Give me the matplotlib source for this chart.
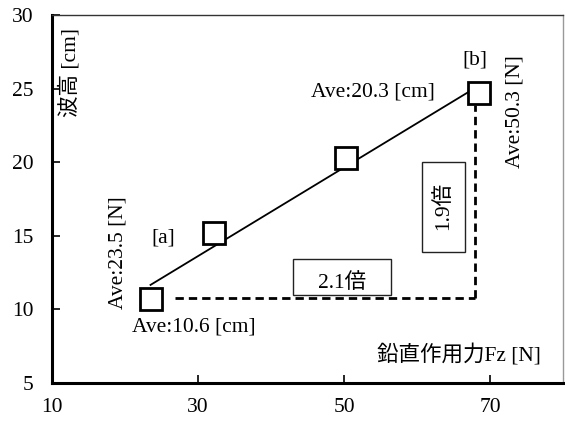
import numpy as np
import matplotlib
matplotlib.use("Agg")
import matplotlib.pyplot as plt
from matplotlib.patches import Rectangle

plt.rcParams['font.family'] = ['Liberation Serif', 'Noto Sans CJK JP']

force = [23.5, 32.2, 50.3, 68.5]
height = [10.7, 15.2, 20.3, 24.7]
xticks = [10, 30, 50, 70]
yticks = [5, 10, 15, 20, 25, 30]

FS = 15.5

fig = plt.figure(figsize=(5.65, 4.21), dpi=100)
ax = fig.add_axes([0.092, 0.0903, 0.9045, 0.8737])

ax.set_xlim(10, 80)
ax.set_ylim(5, 30)
ax.set_xticks(xticks)
ax.set_yticks(yticks)
ax.tick_params(direction='in', length=6, width=1.2, labelsize=FS, pad=13)
ax.tick_params(axis='x', pad=11)
for s in ['left', 'bottom']:
    ax.spines[s].set_linewidth(2.2)
    ax.spines[s].set_color('black')
ax.spines['top'].set_linewidth(1.0)
ax.spines['top'].set_color('#333333')
ax.spines['right'].set_linewidth(1.0)
ax.spines['right'].set_color('#999999')

# trend line
k, b = np.polyfit(force, height, 1)
xs = np.array([min(force), max(force)])
ax.plot(xs, k * xs + b, color='black', lw=1.3, zorder=2)

ax.plot(force, height, linestyle='none', marker='s', ms=16, mfc='white',
        mec='black', mew=2.0, zorder=3)

# dashed guides
ax.plot([26.8, 68.0], [10.75, 10.75], color='black', lw=2, dashes=(3, 1.8), zorder=1)
ax.plot([68.0, 68.0], [10.75, 23.9], color='black', lw=2, dashes=(3, 1.8), zorder=1)

# boxes
ax.add_patch(Rectangle((43.0, 10.98), 13.4, 2.44, fill=False, ec='#222222', lw=1.0))
ax.add_patch(Rectangle((60.7, 13.9), 5.9, 6.1, fill=False, ec='#222222', lw=1.0))
ax.text(49.7, 11.8, '2.1倍', ha='center', va='center', fontsize=FS)
ax.text(63.6, 17.0, '1.9倍', ha='center', va='center', fontsize=FS, rotation=90)

ax.text(25.2, 14.85, '[a]', ha='center', va='center', fontsize=FS)
ax.text(67.9, 26.94, '[b]', ha='center', va='center', fontsize=FS)
ax.text(54.0, 24.77, 'Ave:20.3 [cm]', ha='center', va='center', fontsize=FS)
ax.text(29.45, 8.8, 'Ave:10.6 [cm]', ha='center', va='center', fontsize=FS)
ax.text(65.75, 6.9, '鉛直作用力Fz [N]', ha='center', va='center', fontsize=FS)
ax.text(19.0, 13.83, 'Ave:23.5 [N]', ha='center', va='center', fontsize=FS, rotation=90)
ax.text(73.4, 23.48, 'Ave:50.3 [N]', ha='center', va='center', fontsize=FS, rotation=90)
ax.text(12.47, 26.13, '波高 [cm]', ha='center', va='center', fontsize=FS, rotation=90)

fig.savefig('out.png', dpi=100)
